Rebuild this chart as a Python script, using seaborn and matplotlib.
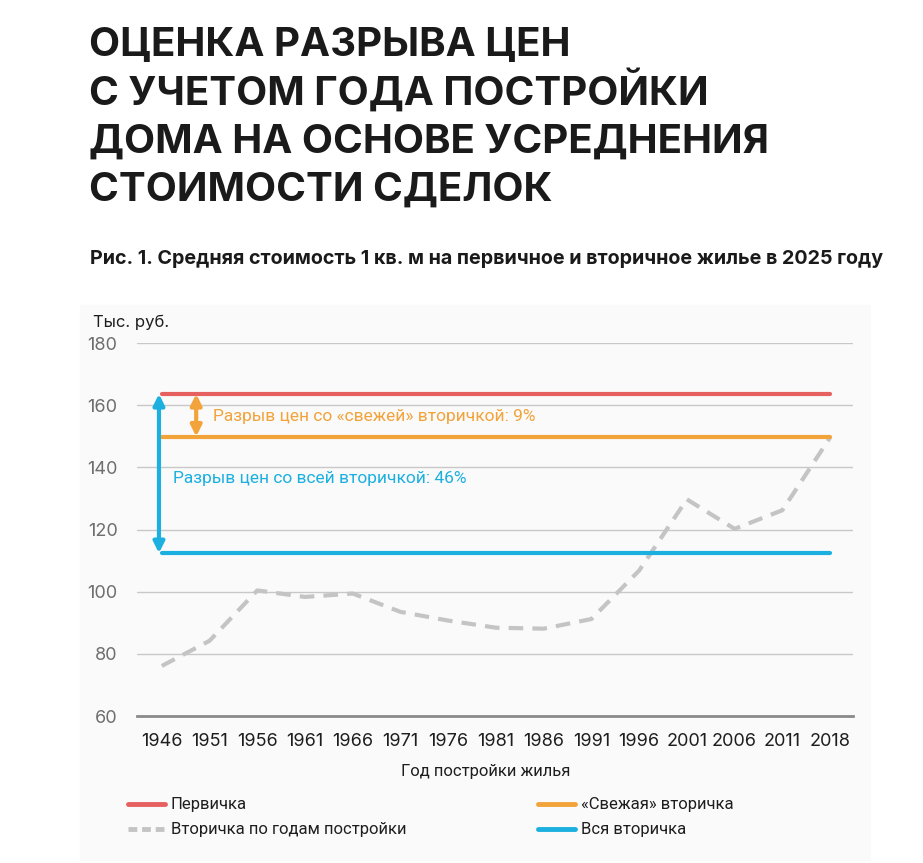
import numpy as np
import pandas as pd
import matplotlib
matplotlib.use("Agg")
import matplotlib.pyplot as plt
import seaborn as sns

# data
years = ["1946", "1951", "1956", "1961", "1966", "1971", "1976", "1981",
         "1986", "1991", "1996", "2001", "2006", "2011", "2018"]
secondary_by_year = [76.1, 84.2, 100.4, 98.3, 99.4, 93.5, 90.7, 88.4,
                     88.1, 91.2, 106.8, 129.7, 120.2, 126.2, 149.6]
primary_price = 163.6
fresh_secondary_price = 149.9
all_secondary_price = 112.4

series_names = ["Первичка", "Вторичка по годам постройки",
                "«Свежая» вторичка", "Вся вторичка"]
series_colors = ["#E5605F", "#C4C4C4", "#F2A33A", "#1BB0DF"]

n = len(years)
df = pd.DataFrame({
    "x": list(range(n)) * 4,
    "value": [primary_price] * n + secondary_by_year
             + [fresh_secondary_price] * n + [all_secondary_price] * n,
    "series": sum([[s] * n for s in series_names], []),
})

sns.set_theme(style="white")
plt.rcParams["font.family"] = ["Inter", "DejaVu Sans"]

W, H = 923, 863
fig = plt.figure(figsize=(W / 100, H / 100), dpi=100)
fig.patch.set_facecolor("white")

def fx(px):
    return px / W

def fy(py):
    return 1 - py / H

# faint panel behind the chart
panel = plt.Rectangle((fx(80), fy(860)), fx(870) - fx(80), fy(305) - fy(860),
                      transform=fig.transFigure, color="#FAFAFA", zorder=-5)
fig.add_artist(panel)

ax = fig.add_axes([fx(137), fy(716), fx(853) - fx(137), fy(343) - fy(716)])
ax.set_facecolor("none")

sns.lineplot(data=df, x="x", y="value", hue="series", style="series",
             hue_order=series_names, style_order=series_names,
             palette=dict(zip(series_names, series_colors)),
             dashes={series_names[0]: "", series_names[1]: (3.5, 2.2),
                     series_names[2]: "", series_names[3]: ""},
             linewidth=3, legend=False, ax=ax, zorder=3)

ax.set_xlim(-0.52, n - 1 + 0.48)
ax.set_ylim(60, 180)
ax.set_yticks(range(60, 181, 20))
ax.set_xticks(range(n))
ax.set_xticklabels(years)
ax.grid(axis="y", color="#C8C8C8", linewidth=1)
ax.set_axisbelow(True)
for s in ["left", "right", "top"]:
    ax.spines[s].set_visible(False)
ax.spines["bottom"].set_color("#8A8A8A")
ax.spines["bottom"].set_linewidth(2)
ax.tick_params(axis="y", length=0, pad=14, labelsize=13, labelcolor="#6E6E6E")
ax.tick_params(axis="x", length=0, pad=12, labelsize=13, labelcolor="#1E1E1E")
ax.set_xlabel("Год постройки жилья", fontsize=12, color="#1E1E1E",
              family=["Roboto", "DejaVu Sans"])
ax.xaxis.set_label_coords((486 - 137) / 716, -0.128)
ax.set_ylabel("")

# double arrows and gap labels
ax.annotate("", xy=(-0.06, primary_price), xytext=(-0.06, all_secondary_price),
            arrowprops=dict(arrowstyle="<|-|>", color="#1BB0DF", lw=3,
                            mutation_scale=16, shrinkA=0, shrinkB=0))
ax.annotate("", xy=(0.72, primary_price), xytext=(0.72, fresh_secondary_price),
            arrowprops=dict(arrowstyle="<|-|>", color="#F2A33A", lw=3,
                            mutation_scale=16, shrinkA=0, shrinkB=0))
ax.text(1.07, 156.4, "Разрыв цен со «свежей» вторичкой: 9%", color="#F2A33A",
        fontsize=12.5, va="center", family=["Roboto", "DejaVu Sans"])
ax.text(0.23, 136.3, "Разрыв цен со всей вторичкой: 46%", color="#1BB0DF",
        fontsize=12.5, va="center", family=["Roboto", "DejaVu Sans"])

fig.text(fx(93), fy(322), "Тыс. руб.", fontsize=12, color="#1E1E1E", va="center")

# title and subtitle
title_lines = ["ОЦЕНКА РАЗРЫВА ЦЕН", "С УЧЕТОМ ГОДА ПОСТРОЙКИ",
               "ДОМА НА ОСНОВЕ УСРЕДНЕНИЯ", "СТОИМОСТИ СДЕЛОК"]
for i, line in enumerate(title_lines):
    fig.text(fx(89), fy(56 + i * 48.3), line, fontsize=29, fontweight="bold",
             color="#1A1A1A", va="baseline")
fig.text(fx(90), fy(264), "Рис. 1. Средняя стоимость 1 кв. м на первичное и вторичное жилье в 2025 году",
         fontsize=14.2, fontweight="bold", color="#1A1A1A", va="baseline")

# legend
legend_items = [(128, 804, 0), (538, 804, 2), (128, 829, 1), (538, 829, 3)]
for lx, ly, k in legend_items:
    ls = (0, (1.8, 1.0)) if k == 1 else "-"
    fig.add_artist(plt.Line2D([fx(lx), fx(lx + 37)], [fy(ly), fy(ly)], color=series_colors[k],
                              linewidth=3.5, linestyle=ls, transform=fig.transFigure))
    fig.text(fx(lx + 43), fy(ly), series_names[k], fontsize=12, color="#1E1E1E",
             va="center", family=["Roboto", "DejaVu Sans"])

fig.savefig("out.png", dpi=100)
